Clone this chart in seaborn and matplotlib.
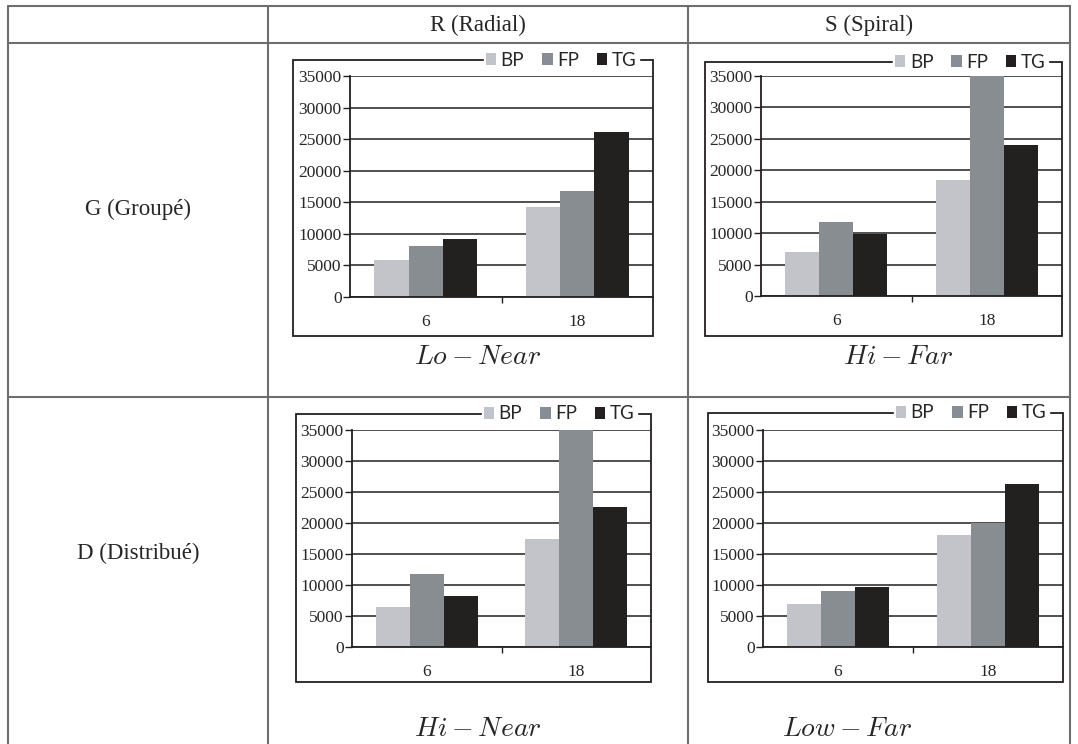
import pandas as pd
import matplotlib.pyplot as plt
from matplotlib.lines import Line2D
from matplotlib.patches import Rectangle, Patch
from matplotlib.ticker import FixedLocator
import seaborn as sns

# values
categories = ['6', '18']
series = ['BP', 'FP', 'TG']
colors = {'BP': '#c1c4cb', 'FP': '#868d94', 'TG': '#231f20'}

grouped_radial = {'BP': [5800, 14300], 'FP': [8100, 16800], 'TG': [9200, 26200]}
grouped_spiral = {'BP': [7000, 18400], 'FP': [11800, 35000], 'TG': [9900, 24100]}
distrib_radial = {'BP': [6500, 17500], 'FP': [11700, 35000], 'TG': [8200, 22600]}
distrib_spiral = {'BP': [7000, 18000], 'FP': [9100, 20000], 'TG': [9700, 26300]}

col_headers = ['R (Radial)', 'S (Spiral)']
row_headers = ['G (Groupé)', 'D (Distribué)']
captions = [r'$Lo - Near$', r'$Hi - Far$', r'$Hi - Near$', r'$Low - Far$']
yticks = [0, 5000, 10000, 15000, 20000, 25000, 30000, 35000]

sns.set_theme(style='white')
plt.rcParams['font.family'] = ['Liberation Serif', 'DejaVu Serif']
plt.rcParams['mathtext.fontset'] = 'cm'

W, H = 1078, 744
fig = plt.figure(figsize=(W / 100, H / 100), dpi=100)
fig.patch.set_facecolor('white')


def fx(x):
    return x / W


def fy(y):
    return 1 - y / H


# table grid
grid_col = '#6e6e6e'
for (x0, y0, x1, y1) in [(8, 6, 1070, 6), (8, 43, 1070, 43), (8, 397, 1070, 397),
                         (8, 6, 8, 744), (268, 6, 268, 744), (688, 6, 688, 744),
                         (1070, 6, 1070, 744)]:
    fig.add_artist(Line2D([fx(x0), fx(x1)], [fy(y0), fy(y1)], color=grid_col,
                          lw=1.5, transform=fig.transFigure))

fig.text(fx(478), fy(25), col_headers[0], ha='center', va='center', fontsize=16.5)
fig.text(fx(869), fy(25), col_headers[1], ha='center', va='center', fontsize=16.5)
fig.text(fx(138), fy(209), row_headers[0], ha='center', va='center', fontsize=16.5)
fig.text(fx(138), fy(553), row_headers[1], ha='center', va='center', fontsize=16.5)

panels = [
    (grouped_radial, (350, 76, 653, 297), (293, 60, 653, 336), (478, 357)),
    (grouped_spiral, (761, 76, 1062, 296), (705, 62, 1062, 336), (898, 357)),
    (distrib_radial, (352, 430, 651, 647), (296, 414, 651, 682), (478, 729)),
    (distrib_spiral, (763, 430, 1063, 647), (708, 413, 1063, 682), (847, 729)),
]

for (vals, (px0, py0, px1, py1), (bx0, by0, bx1, by1), (cx, cy)), cap in zip(panels, captions):
    # chart-area frame behind the axes
    fig.add_artist(Rectangle((fx(bx0), fy(by1)), fx(bx1) - fx(bx0), fy(by0) - fy(by1),
                             transform=fig.transFigure, fill=False, edgecolor='#231f20',
                             lw=1.3, zorder=-1))

    ax = fig.add_axes([fx(px0), fy(py1), fx(px1) - fx(px0), fy(py0) - fy(py1)])
    ax.set_facecolor('none')

    df = pd.DataFrame({
        'n': categories * len(series),
        'series': [s for s in series for _ in categories],
        'value': [v for s in series for v in vals[s]],
    })
    sns.barplot(data=df, x='n', y='value', hue='series', order=categories,
                hue_order=series, palette=colors, width=0.68, gap=0,
                linewidth=0, legend=False, ax=ax, zorder=3)

    ax.set_ylim(0, 35000)
    ax.set_xlim(-0.5, 1.5)
    ax.set_yticks(yticks)
    ax.set_yticklabels([str(t) for t in yticks])
    ax.yaxis.grid(True, color='#231f20', lw=1.1)
    ax.xaxis.grid(False)
    ax.set_axisbelow(True)
    ax.set_xlabel('')
    ax.set_ylabel('')
    for side in ['top', 'right']:
        ax.spines[side].set_visible(False)
    for side in ['left', 'bottom']:
        ax.spines[side].set_color('#231f20')
        ax.spines[side].set_linewidth(1.3)
        ax.spines[side].set_zorder(4)
    ax.tick_params(axis='y', direction='out', length=5, width=1, color='#231f20',
                   labelsize=12.5, pad=1, left=True)
    ax.tick_params(axis='x', which='major', length=0, labelsize=12.5, pad=12)
    ax.xaxis.set_minor_locator(FixedLocator([0.5]))
    ax.tick_params(axis='x', which='minor', direction='out', length=4, width=1,
                   color='#231f20', bottom=True)

    handles = [Patch(facecolor=colors[s], edgecolor='none', label=s) for s in series]
    ax.legend(handles=handles, loc='center right', ncol=3,
              bbox_to_anchor=(fx(bx1 - 5), fy(by0)), bbox_transform=fig.transFigure,
              frameon=True, fancybox=False, framealpha=1, facecolor='white',
              edgecolor='white', borderpad=0.1, handlelength=0.55, handleheight=0.55,
              handletextpad=0.25, columnspacing=0.95,
              prop={'family': 'Lato', 'size': 13.5})

    fig.text(fx(cx), fy(cy), cap, ha='center', va='center', fontsize=20)

fig.savefig('out.png', dpi=100)
